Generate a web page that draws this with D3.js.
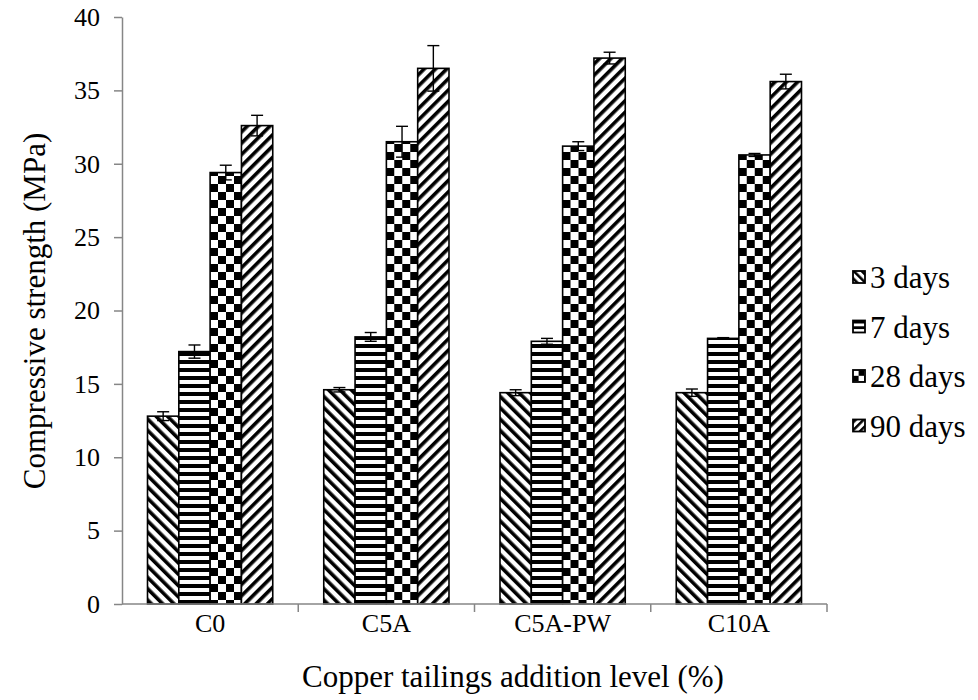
<!DOCTYPE html>
<html><head><meta charset="utf-8">
<script src="https://cdn.jsdelivr.net/npm/d3@7/dist/d3.min.js"></script>
<style>body{margin:0;background:#fff}svg{display:block}svg text{font-family:"Liberation Serif","Times New Roman",serif}</style>
</head><body><svg id="c" width="978" height="700"></svg>
<script>
const categories = ["C0", "C5A", "C5A-PW", "C10A"];
const series = ["3 days", "7 days", "28 days", "90 days"];
const values = {
  "3 days":  [12.8, 14.6, 14.4, 14.4],
  "7 days":  [17.2, 18.2, 17.9, 18.1],
  "28 days": [29.4, 31.5, 31.2, 30.6],
  "90 days": [32.6, 36.5, 37.2, 35.6]
};
const errors = {
  "3 days":  [0.3, 0.15, 0.2, 0.25],
  "7 days":  [0.45, 0.3, 0.2, 0.05],
  "28 days": [0.5, 1.05, 0.3, 0.1],
  "90 days": [0.7, 1.55, 0.4, 0.5]
};
const yTicks = [0, 5, 10, 15, 20, 25, 30, 35, 40];

const FONT = "Liberation Serif, Times New Roman, serif";
const svg = d3.select("#c");
const mLeft = 122, mRight = 827, mTop = 17, mBottom = 604;
const y = d3.scaleLinear().domain([0, 40]).range([mBottom, mTop]);
const x0 = d3.scaleBand().domain(categories).range([mLeft, mRight]).paddingInner(0).paddingOuter(0);
const x1 = d3.scaleBand().domain(series).range([25.5, x0.bandwidth() - 25.5]);

// patterns
const defs = svg.append("defs");
function mkPatterns(prefix, s) {
  let p = defs.append("pattern").attr("id", prefix + "p0").attr("patternUnits", "userSpaceOnUse")
    .attr("width", 8 * s).attr("height", 8 * s).attr("patternTransform", "rotate(-45)");
  p.append("rect").attr("width", 8 * s).attr("height", 8 * s).attr("fill", "#fff");
  p.append("rect").attr("width", 3.6 * s).attr("height", 8 * s).attr("fill", "#000");
  p = defs.append("pattern").attr("id", prefix + "p1").attr("patternUnits", "userSpaceOnUse")
    .attr("width", 8 * s).attr("height", 8 * s);
  p.append("rect").attr("width", 8 * s).attr("height", 8 * s).attr("fill", "#fff");
  p.append("rect").attr("width", 8 * s).attr("height", 4 * s).attr("fill", "#000");
  p = defs.append("pattern").attr("id", prefix + "p2").attr("patternUnits", "userSpaceOnUse")
    .attr("width", 16 * s).attr("height", 16 * s);
  p.append("rect").attr("width", 16 * s).attr("height", 16 * s).attr("fill", "#fff");
  p.append("rect").attr("width", 8 * s).attr("height", 8 * s).attr("fill", "#000");
  p.append("rect").attr("x", 8 * s).attr("y", 8 * s).attr("width", 8 * s).attr("height", 8 * s).attr("fill", "#000");
  p = defs.append("pattern").attr("id", prefix + "p3").attr("patternUnits", "userSpaceOnUse")
    .attr("width", 8 * s).attr("height", 8 * s).attr("patternTransform", "rotate(45)");
  p.append("rect").attr("width", 8 * s).attr("height", 8 * s).attr("fill", "#fff");
  p.append("rect").attr("width", 3.6 * s).attr("height", 8 * s).attr("fill", "#000");
}
mkPatterns("b", 1);
mkPatterns("l", 0.7);

// y axis
const yAxis = svg.append("g").attr("transform", `translate(${mLeft},0)`)
  .call(d3.axisLeft(y).tickValues(yTicks).tickSize(8).tickSizeOuter(0).tickPadding(14));
yAxis.attr("font-family", FONT).attr("font-size", 26);
yAxis.select(".domain").attr("stroke", "#868686").attr("stroke-width", 1.5);
yAxis.selectAll(".tick line").attr("stroke", "#868686").attr("stroke-width", 1.5);
yAxis.selectAll(".tick text").attr("fill", "#000");

// bars
const groups = svg.append("g").selectAll("g").data(categories).join("g")
  .attr("transform", d => `translate(${x0(d)},0)`);
series.forEach((s, si) => {
  groups.append("rect")
    .attr("x", x1(s)).attr("width", x1.bandwidth())
    .attr("y", (d, i) => y(values[s][i]))
    .attr("height", (d, i) => y(0) - y(values[s][i]))
    .attr("fill", `url(#bp${si})`).attr("stroke", "#000").attr("stroke-width", 1.6);
});
// error bars
series.forEach((s, si) => {
  const cx = x1(s) + x1.bandwidth() / 2;
  groups.each(function (d, i) {
    const g = d3.select(this);
    const v = values[s][i], e = errors[s][i];
    g.append("line").attr("x1", cx).attr("x2", cx).attr("y1", y(v + e)).attr("y2", y(v - e))
      .attr("stroke", "#000").attr("stroke-width", 1.4);
    [v + e, v - e].forEach(t => g.append("line").attr("x1", cx - 6).attr("x2", cx + 6)
      .attr("y1", y(t)).attr("y2", y(t)).attr("stroke", "#000").attr("stroke-width", 1.4));
  });
});

// x axis
const xAxis = svg.append("g").attr("transform", `translate(0,${mBottom})`);
xAxis.append("line").attr("x1", mLeft).attr("x2", mRight).attr("stroke", "#868686").attr("stroke-width", 1.5);
const bounds = categories.map(c => x0(c) + x0.bandwidth());
xAxis.selectAll(".t").data(bounds).join("line")
  .attr("x1", d => d).attr("x2", d => d).attr("y1", 0).attr("y2", 8)
  .attr("stroke", "#868686").attr("stroke-width", 1.5);
xAxis.selectAll("text").data(categories).join("text")
  .attr("x", d => x0(d) + x0.bandwidth() / 2).attr("y", 28)
  .attr("text-anchor", "middle").attr("font-family", FONT).attr("font-size", 26).text(d => d);

// axis titles
svg.append("text").attr("x", 302).attr("y", 687).attr("text-anchor", "start")
  .attr("font-family", FONT).attr("font-size", 31).text("Copper tailings addition level (%)");
svg.append("text").attr("transform", "translate(45,311) rotate(-90)").attr("text-anchor", "middle")
  .attr("font-family", FONT).attr("font-size", 31).text("Compressive strength (MPa)");

// legend
const lg = svg.append("g").selectAll("g").data(series).join("g")
  .attr("transform", (d, i) => `translate(853,${288 + i * 49.5})`);
lg.append("rect").attr("x", 0).attr("y", -17).attr("width", 12).attr("height", 12)
  .attr("fill", (d, i) => `url(#lp${i})`).attr("stroke", "#000").attr("stroke-width", 1.8);
lg.append("text").attr("x", 17).attr("y", 0).attr("font-family", FONT).attr("font-size", 31).text(d => d);
</script></body></html>
